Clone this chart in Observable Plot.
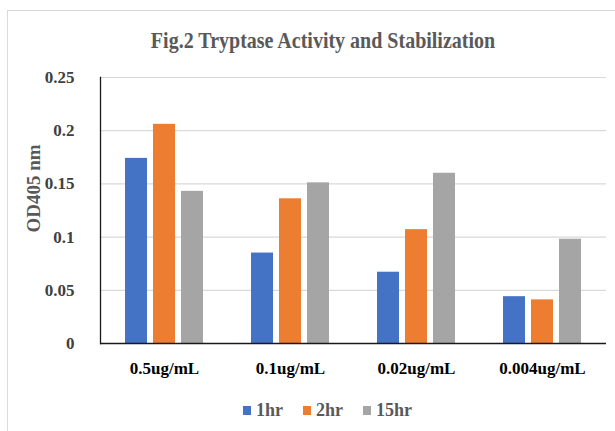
<!DOCTYPE html>
<html>
<head>
<meta charset="utf-8">
<script src="https://cdn.jsdelivr.net/npm/d3@7"></script>
<script src="https://cdn.jsdelivr.net/npm/@observablehq/plot@0.6"></script>
<style>
  html, body { margin: 0; padding: 0; background: #fff; }
  #wrap { position: relative; width: 615px; height: 431px; overflow: hidden; font-family: "Liberation Serif", "Times New Roman", serif; }
  #border { position: absolute; left: 7px; top: 9.5px; width: 640px; height: 460px; border: 1.5px solid #d9d9d9; box-sizing: border-box; }
  #title { position: absolute; left: 0; width: 646px; top: 30.5px; line-height: 20px; text-align: center; font-weight: bold; font-size: 20px; color: #595959; transform: scaleY(1.16); transform-origin: 50% 16.75px; }
  #chart { position: absolute; left: 0; top: 55px; }
  #legend { position: absolute; left: 243px; top: 399px; display: flex; align-items: center; font-weight: bold; font-size: 18px; line-height: 22px; color: #595959; }
  #legend .item { display: flex; align-items: center; margin-right: 20px; }
  #legend .sw { width: 8px; height: 9px; margin-right: 5px; }
</style>
</head>
<body>
<div id="wrap">
  <div id="border"></div>
  <div id="title"></div>
  <div id="chart"></div>
  <div id="legend"></div>
</div>
<script>
// ---- data ----
const titleText = "Fig.2 Tryptase Activity and Stabilization";
const yLabel = "OD405 nm";
const categories = ["0.5ug/mL", "0.1ug/mL", "0.02ug/mL", "0.004ug/mL"];
const seriesNames = ["1hr", "2hr", "15hr"];
const v1hr  = [0.174, 0.085, 0.067, 0.044];
const v2hr  = [0.206, 0.136, 0.107, 0.041];
const v15hr = [0.143, 0.151, 0.160, 0.098];
const yTicks = [0, 0.05, 0.1, 0.15, 0.2, 0.25];
const colors = ["#4472C4", "#ED7D31", "#A5A5A5"];

// ---- layout ----
const W = 615, H = 335;
const mL = 100, mR = 9, mT = 22, mB = 47;
const barW = 22, gap = 6;
const groupW = seriesNames.length * barW + (seriesNames.length - 1) * gap;
const step = (W - mL - mR) / categories.length;
const padInner = 1 - groupW / step;

document.getElementById("title").textContent = titleText;

const seriesValues = [v1hr, v2hr, v15hr];
const barMarks = seriesValues.map((vals, i) =>
  Plot.barY(categories.map((c, j) => ({category: c, value: vals[j]})), {
    x: "category",
    y: "value",
    fill: colors[i],
    insetLeft: i * (barW + gap),
    insetRight: (seriesNames.length - 1 - i) * (barW + gap)
  })
);

const chart = Plot.plot({
  width: W,
  height: H,
  marginTop: mT,
  marginBottom: mB,
  marginLeft: mL,
  marginRight: mR,
  style: {fontFamily: '"Liberation Serif", "Times New Roman", serif', fontSize: "17px", fontWeight: "bold", background: "transparent", overflow: "visible"},
  x: {domain: categories, paddingInner: padInner, paddingOuter: padInner / 2, axis: null},
  y: {domain: [0, 0.25], axis: null},
  marks: [
    Plot.gridY(yTicks, {stroke: "#d9d9d9", strokeOpacity: 1, strokeWidth: 1.2}),
    ...barMarks,
    Plot.ruleY([0], {stroke: "#1a1a1a", strokeWidth: 1.3}),
    Plot.frame({anchor: "left", stroke: "#1a1a1a", strokeWidth: 1.3}),
    Plot.axisY(yTicks, {tickSize: 0, tickPadding: 26, fontSize: 17, color: "#404040", tickFormat: d => String(d), label: null}),
    Plot.axisX({tickSize: 0, tickPadding: 18, fontSize: 17, color: "#000", label: null}),
    Plot.text([yLabel], {text: d => d, frameAnchor: "left", textAnchor: "middle", rotate: -90, dx: -67, dy: -22, fontSize: 19, fill: "#595959", fontWeight: "bold"})
  ]
});
document.getElementById("chart").appendChild(chart);

const legend = document.getElementById("legend");
seriesNames.forEach((s, i) => {
  const item = document.createElement("div");
  item.className = "item";
  const sw = document.createElement("span");
  sw.className = "sw";
  sw.style.background = colors[i];
  const t = document.createElement("span");
  t.textContent = s;
  item.appendChild(sw);
  item.appendChild(t);
  legend.appendChild(item);
});
</script>
</body>
</html>
